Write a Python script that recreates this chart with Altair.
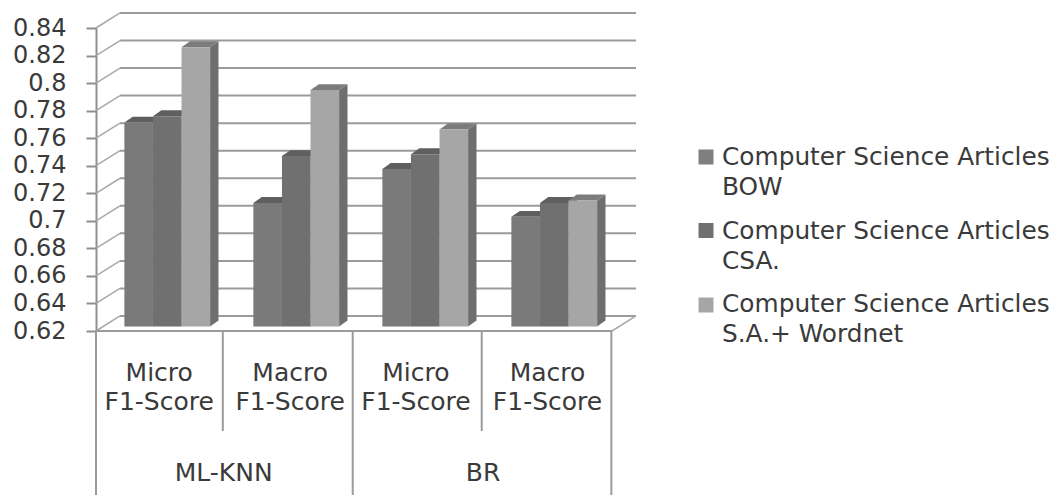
import altair as alt
import pandas as pd

# Chart data
categories = ["Micro\nF1-Score", "Macro\nF1-Score", "Micro\nF1-Score", "Macro\nF1-Score"]
series = [
    "Computer Science Articles\nBOW",
    "Computer Science Articles\nCSA.",
    "Computer Science Articles\nS.A.+ Wordnet",
]
bow_values = [0.768, 0.7097, 0.7344, 0.6996]
csa_values = [0.7727, 0.7437, 0.745, 0.7097]
wordnet_values = [0.8228, 0.7916, 0.763, 0.7115]
y_ticks = [0.62, 0.64, 0.66, 0.68, 0.70, 0.72, 0.74, 0.76, 0.78, 0.80, 0.82, 0.84]

# Horizontal positions of the two-level category labels and dividers, in category units
label_slots = [0.49, 1.505, 2.48, 3.50]
group_labels = ["ML-KNN", "BR"]
group_slots = [0.99, 3.0]
short_dividers = [0.983, 2.99]
tall_dividers = [0.0, 1.99, 3.995]

# Colours
front_colors = ["#7a7a7a", "#707070", "#a6a6a6"]
side_colors = ["#666666", "#666666", "#6e6e6e"]
top_colors = ["#5f5f5f", "#5f5f5f", "#7c7c7c"]
legend_colors = ["#7f7f7f", "#707070", "#a6a6a6"]
line_color = "#9b9b9b"
text_color = "#3a3a3a"
font = "DejaVu Sans"

# Projection of the 3-D box, in data units
WALL_DX, WALL_DY = 0.186, 0.0109
BAR_START, BAR_WIDTH = 0.22, 0.2215
BAR_DX, BAR_DY = 0.065, 0.0043
BAR_LIFT = 0.0033
BASE = y_ticks[0]

x_scale = alt.Scale(domain=[0, 4], nice=False, zero=False)
y_scale = alt.Scale(domain=[BASE, y_ticks[-1]], nice=False, zero=False)

# Every layer shares one value axis definition so that it is drawn once
value_axis_def = alt.Axis(
    values=y_ticks,
    format=".2~f",
    title=None,
    grid=False,
    domainColor="#8f8f8f",
    domainWidth=2,
    tickColor="#8f8f8f",
    tickWidth=2,
    tickSize=10,
    labelFont=font,
    labelFontSize=24,
    labelColor=text_color,
    labelPadding=20,
    labelOverlap=False,
)
X = lambda f: alt.X(f, type="quantitative", scale=x_scale, axis=None)
Y = lambda f: alt.Y(f, type="quantitative", scale=y_scale, axis=value_axis_def)

# Back wall and floor
grid = pd.DataFrame({"x": WALL_DX, "x2": 4 + WALL_DX, "y": [t + WALL_DY for t in y_ticks]})
back_lines = alt.Chart(grid).mark_rule(color=line_color, strokeWidth=2).encode(
    x=X("x"), x2="x2", y=Y("y")
)

side_rows = []
for t in y_ticks:
    side_rows += [{"t": t, "x": 0, "y": t}, {"t": t, "x": WALL_DX, "y": t + WALL_DY}]
wall_lines = alt.Chart(pd.DataFrame(side_rows)).mark_line(color="#a8a8a8", strokeWidth=1.5).encode(
    x=X("x"), y=Y("y"), detail="t:N"
)
floor_edge = alt.Chart(pd.DataFrame({"x": [4, 4 + WALL_DX], "y": [BASE, BASE + WALL_DY]})).mark_line(
    color="#a8a8a8", strokeWidth=1.5
).encode(x=X("x"), y=Y("y"))

# Bars: for each series a side face, a top face and a front face, drawn back to front
bar_layers = []
all_values = [bow_values, csa_values, wordnet_values]
for s, values in enumerate(all_values):
    front, side, top = [], [], []
    for c, v in enumerate(values):
        left = c + BAR_START + s * BAR_WIDTH
        right = left + BAR_WIDTH
        v_top = v + BAR_LIFT
        v_base = BASE + BAR_LIFT
        front.append({"x": left, "x2": right, "y": v_base, "y2": v_top, "series": series[s]})
        side += [
            {"c": c, "x": right, "y": v_top, "y2": v_base},
            {"c": c, "x": right + BAR_DX, "y": v_top + BAR_DY, "y2": v_base + BAR_DY},
        ]
        top += [
            {"c": c, "x": left, "x2": right, "y": v_top},
            {"c": c, "x": left + BAR_DX, "x2": right + BAR_DX, "y": v_top + BAR_DY},
        ]
    bar_layers.append(
        alt.Chart(pd.DataFrame(side)).mark_area(color=side_colors[s]).encode(
            x=X("x"), y=Y("y"), y2="y2", detail="c:N"
        )
    )
    bar_layers.append(
        alt.Chart(pd.DataFrame(top)).mark_area(color=top_colors[s], orient="horizontal").encode(
            x=X("x"), x2="x2", y=Y("y"), detail="c:N"
        )
    )
    bar_layers.append(
        alt.Chart(pd.DataFrame(front)).mark_rect().encode(
            x=X("x"),
            x2="x2",
            y=Y("y"),
            y2="y2",
            color=alt.Color(
                "series:N",
                scale=alt.Scale(domain=series, range=front_colors),
                legend=None,
            ),
        )
    )

# Category strip under the floor
front_edge = alt.Chart(pd.DataFrame({"x": [0], "x2": [4], "y": [BASE]})).mark_rule(
    color=line_color, strokeWidth=2
).encode(x=X("x"), x2="x2", y=Y("y"))
short_rules = alt.Chart(pd.DataFrame({"x": short_dividers})).mark_rule(
    color=line_color, strokeWidth=2
).encode(x=X("x"), y=alt.value(303), y2=alt.value(403))
tall_rules = alt.Chart(pd.DataFrame({"x": tall_dividers})).mark_rule(
    color=line_color, strokeWidth=2
).encode(x=X("x"), y=alt.value(303), y2=alt.value(467))

category_text = alt.Chart(pd.DataFrame({"x": label_slots, "label": categories})).mark_text(
    font=font, fontSize=25, color=text_color, lineBreak="\n", lineHeight=29, align="center", baseline="middle"
).encode(x=X("x"), y=alt.value(345), text="label:N")
group_text = alt.Chart(pd.DataFrame({"x": group_slots, "label": group_labels})).mark_text(
    font=font, fontSize=25, color=text_color, align="center", baseline="middle"
).encode(x=X("x"), y=alt.value(444.5), text="label:N")

# Legend on the right: a swatch beside a two-line label for each series
legend_layers = []
swatch_rows = [129, 202.5, 277]
label_rows = [130, 203.5, 277]
for label, color, swatch_y, label_y in zip(series, legend_colors, swatch_rows, label_rows):
    row = pd.DataFrame({"label": [label]})
    legend_layers.append(
        alt.Chart(row).mark_square(size=225, opacity=1, color=color).encode(
            x=alt.value(610), y=alt.value(swatch_y)
        )
    )
    legend_layers.append(
        alt.Chart(row).mark_text(
            font=font, fontSize=24.8, color=text_color, lineBreak="\n", lineHeight=30, align="left", baseline="middle"
        ).encode(x=alt.value(626), y=alt.value(label_y), text="label:N")
    )

chart = alt.layer(
    back_lines,
    wall_lines,
    floor_edge,
    *bar_layers,
    front_edge,
    short_rules,
    tall_rules,
    category_text,
    group_text,
    *legend_layers,
).properties(
    width=516,
    height=303,
    autosize=alt.AutoSizeParams(type="none"),
    padding={"left": 96, "top": 28, "right": 440, "bottom": 164},
    background="white",
).configure_view(stroke=None)

chart.save("out.html", embed_options={"renderer": "svg", "actions": False})
